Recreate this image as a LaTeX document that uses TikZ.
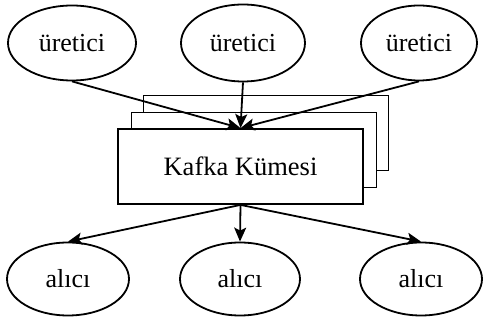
\documentclass[tikz,border=0pt]{standalone}
\usepackage{fontspec}
\setmainfont{Liberation Serif}
\usetikzlibrary{shapes.geometric,arrows.meta}
\begin{document}
\begin{tikzpicture}[x=1pt,y=-1pt,
  line width=1.8pt,
  role/.style={draw,ellipse,inner sep=0pt,font=\fontsize{26}{30}\selectfont},
  broker/.style={draw,fill=white,rectangle,inner sep=0pt,minimum width=245pt,minimum height=75pt},
  flow/.style={-{Stealth[length=14pt,width=12pt,inset=3pt]}}]
\useasboundingbox (0,0) rectangle (483,320);
% cluster: stacked broker boxes, back to front
\node[broker] (b3) at (266,133) {};
\node[broker] (b2) at (254,150) {};
\node[broker,font=\fontsize{26.5}{30}\selectfont] (k) at (240.5,166.5) {Kafka Kümesi};
% producers
\node[role,minimum width=128pt,minimum height=75pt] (p1) at (72,43) {üretici};
\node[role,minimum width=124pt,minimum height=77pt] (p2) at (243,43) {üretici};
\node[role,minimum width=116pt,minimum height=75pt] (p3) at (419,43) {üretici};
% consumers
\node[role,minimum width=122pt,minimum height=73pt] (c1) at (68,279) {alıcı};
\node[role,minimum width=120pt,minimum height=73pt] (c2) at (240,279) {alıcı};
\node[role,minimum width=122pt,minimum height=73pt] (c3) at (421,279) {alıcı};
% producer -> cluster
\draw[flow] (p1.south) -- (k.north);
\draw[flow] (p2.south) -- (k.north);
\draw[flow] (p3.south) -- (k.north);
% cluster -> consumer
\draw[flow] (k.south) -- (c1.north);
\draw[flow] (k.south) -- (c2.north);
\draw[flow] (k.south) -- (c3.north);
\end{tikzpicture}
\end{document}
